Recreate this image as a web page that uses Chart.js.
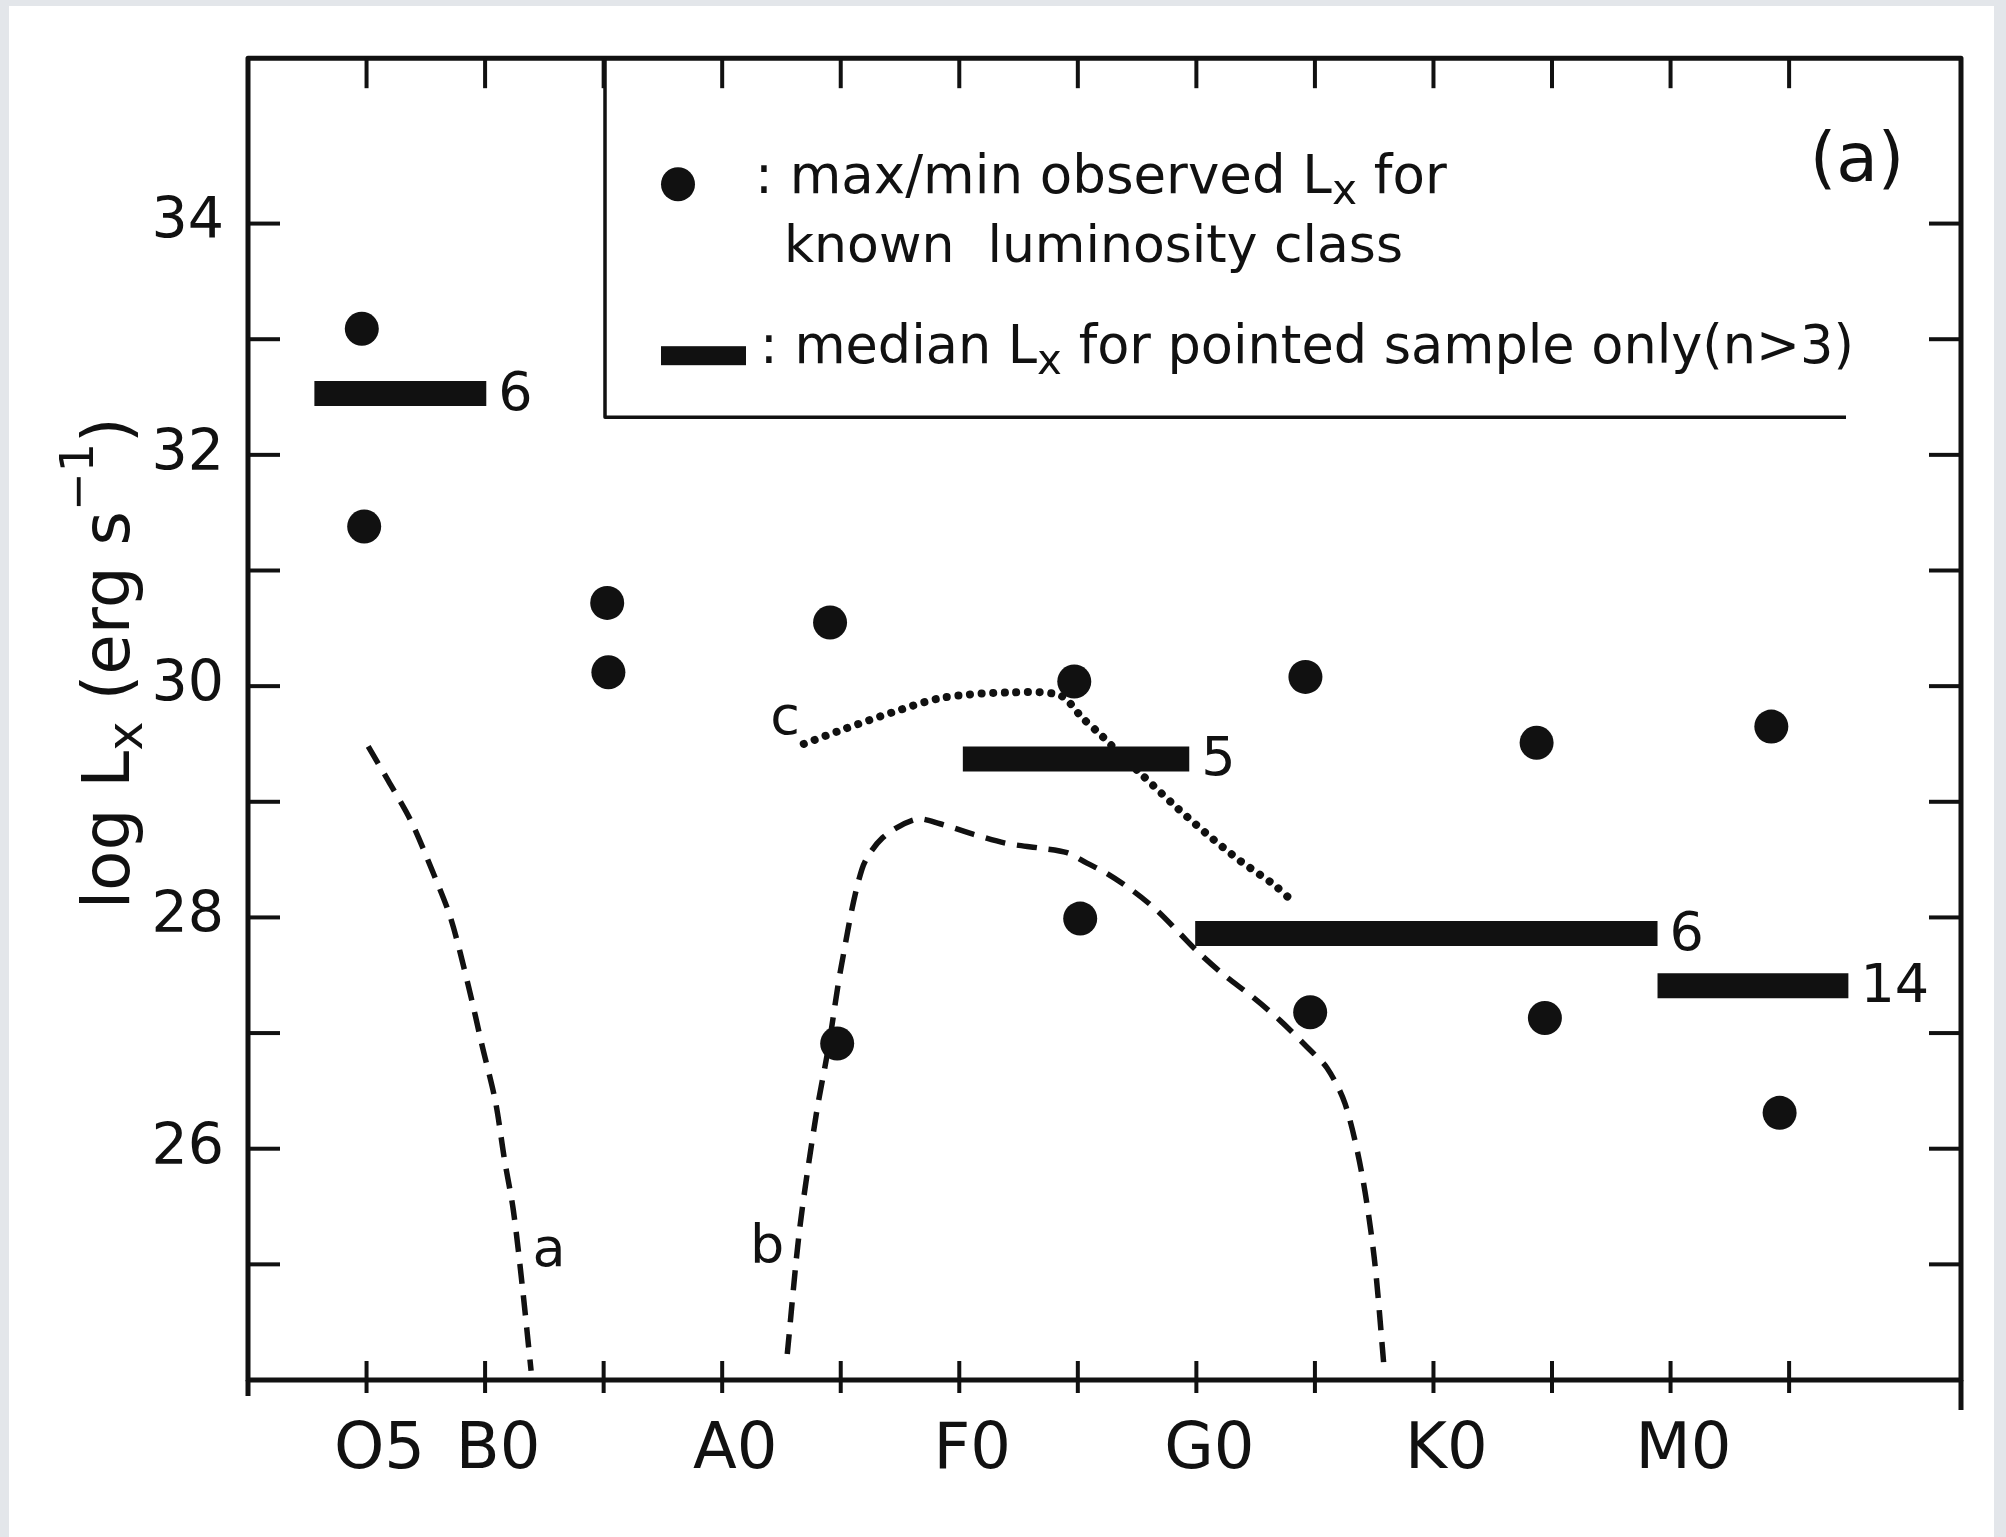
<!DOCTYPE html>
<html><head><meta charset="utf-8">
<script src="https://cdn.jsdelivr.net/npm/chart.js@4.4.1/dist/chart.umd.min.js"></script>
<style>
html,body{margin:0;padding:0;background:#e3e6ea;width:2006px;height:1537px;overflow:hidden;}
#panel{position:absolute;left:9px;top:6px;width:1985px;height:1531px;background:#fff;}
#c{position:absolute;left:0;top:0;}
</style></head><body>
<div id="panel"></div>
<canvas id="c" width="2006" height="1537"></canvas>
<script>
// Spectral type axis: one unit = 5 subclasses, O5 = 0
const xTickLabelPositions = [0, 1, 3, 5, 7, 9, 11];
const xTickLabelNames = ['O5', 'B0', 'A0', 'F0', 'G0', 'K0', 'M0'];
const yTickLabelValues = [26, 28, 30, 32, 34];

// max/min observed Lx (filled circles)
const maxMinX = [-0.04, -0.02, 2.03, 2.04, 3.91, 3.97, 5.97, 6.02, 7.92, 7.96, 9.87, 9.94, 11.85, 11.92];
const maxMinY = [33.09, 31.38, 30.72, 30.12, 30.55, 26.91, 30.04, 27.99, 30.08, 27.18, 29.51, 27.13, 29.65, 26.31];

// median Lx bars for pointed sample (n>3)
const medianStart = [-0.44, 5.03, 6.99, 10.89];
const medianEnd   = [1.01, 6.94, 10.89, 12.50];
const medianLx    = [32.53, 29.37, 27.86, 27.41];
const medianN     = ['6', '5', '6', '14'];

// curve a (dashed)
const curveAX = [0.014, 0.184, 0.372, 0.56, 0.711, 0.861, 0.973, 1.087, 1.163, 1.238, 1.313, 1.388];
const curveAY = [29.48, 29.18, 28.84, 28.39, 27.99, 27.40, 26.90, 26.41, 25.91, 25.47, 24.82, 24.08];
// curve b (dashed)
const curveBX = [3.549, 3.654, 3.794, 3.899, 4.005, 4.180, 4.354, 4.637, 4.837, 5.116, 5.40, 5.68, 5.909, 6.077, 6.246, 6.465, 6.668, 6.862, 7.005, 7.224, 7.477, 7.705, 7.933, 8.101, 8.254, 8.393, 8.50, 8.584];
const curveBY = [24.225, 25.31, 26.30, 26.89, 27.58, 28.42, 28.69, 28.85, 28.81, 28.72, 28.64, 28.60, 28.56, 28.47, 28.38, 28.23, 28.06, 27.86, 27.71, 27.51, 27.31, 27.11, 26.88, 26.70, 26.39, 25.80, 25.06, 24.10];
// curve c (dotted)
const curveCX = [3.688, 4.005, 4.427, 4.86, 5.408, 5.85, 6.043, 6.187, 6.271, 6.524, 6.803, 7.09, 7.368, 7.646, 7.79];
const curveCY = [29.50, 29.62, 29.77, 29.90, 29.945, 29.92, 29.72, 29.586, 29.50, 29.25, 28.98, 28.72, 28.49, 28.29, 28.16];

// curve labels (text baseline positions in data units)
const curveLabelNames = ['a', 'b', 'c'];
const curveLabelX = [1.54, 3.38, 3.53];
const curveLabelY = [24.99, 25.01, 29.59];

const INK = '#111';
const FONT = '"DejaVu Sans", "Liberation Sans", sans-serif';

function zip(xs, ys) { return xs.map((x, i) => ({x: x, y: ys[i]})); }

function drawRich(ctx, segs, x, y, size) {
  let cx = x;
  segs.forEach(s => {
    const fs = size * (s.k || 1);
    ctx.font = fs + 'px ' + FONT;
    ctx.fillText(s.t, cx, y + (s.dy || 0) * size);
    cx += ctx.measureText(s.t).width;
  });
  return cx;
}
function richWidth(ctx, segs, size) {
  let w = 0;
  segs.forEach(s => { ctx.font = size * (s.k || 1) + 'px ' + FONT; w += ctx.measureText(s.t).width; });
  return w;
}
function line(ctx, x1, y1, x2, y2) { ctx.beginPath(); ctx.moveTo(x1, y1); ctx.lineTo(x2, y2); ctx.stroke(); }

const datasets = [];
datasets.push({label: 'max/min observed Lx', data: zip(maxMinX, maxMinY), pointRadius: 17,
  pointBackgroundColor: INK, pointBorderWidth: 0, showLine: false, order: 0});
medianLx.forEach((v, i) => {
  datasets.push({label: 'median ' + i, data: [{x: medianStart[i], y: v}, {x: medianEnd[i], y: v}],
    showLine: true, borderColor: INK, borderWidth: 25, borderCapStyle: 'butt', pointRadius: 0, order: 1});
});
datasets.push({label: 'a', data: zip(curveAX, curveAY), showLine: true, borderColor: INK, borderWidth: 5.5,
  borderDash: [20, 12], tension: 0.3, pointRadius: 0, order: 2});
datasets.push({label: 'b', data: zip(curveBX, curveBY), showLine: true, borderColor: INK, borderWidth: 5.5,
  borderDash: [20, 12], tension: 0.3, pointRadius: 0, order: 2});
datasets.push({label: 'c', data: zip(curveCX, curveCY), showLine: true, borderColor: INK, borderWidth: 8,
  borderDash: [0.1, 11.5], borderCapStyle: 'round', tension: 0.3, pointRadius: 0, order: 2});

const decor = {
  id: 'decor',
  afterDatasetsDraw(chart) {
    const ctx = chart.ctx, a = chart.chartArea, xs = chart.scales.x, ys = chart.scales.y;
    ctx.save();
    ctx.strokeStyle = INK; ctx.fillStyle = INK;
    // frame
    ctx.lineWidth = 5; ctx.lineJoin = 'round';
    ctx.strokeRect(a.left, a.top, a.right - a.left, a.bottom - a.top);
    line(ctx, a.left, a.bottom, a.left, a.bottom + 16);
    line(ctx, a.right, a.bottom, a.right, a.bottom + 30);
    // tick marks (inward on top/left/right, crossing at bottom)
    ctx.lineWidth = 4;
    xs.ticks.forEach(t => {
      if (!Number.isInteger(t.value) || t.value <= xs.min || t.value >= xs.max) return;
      const px = xs.getPixelForValue(t.value);
      line(ctx, px, a.bottom - 19, px, a.bottom + 13);
      line(ctx, px, a.top, px, a.top + 30);
    });
    ys.ticks.forEach(t => {
      if (!Number.isInteger(t.value) || t.value <= ys.min || t.value >= ys.max) return;
      const py = ys.getPixelForValue(t.value);
      line(ctx, a.left, py, a.left + 32, py);
      line(ctx, a.right - 32, py, a.right, py);
    });
    // n labels for median bars
    ctx.textBaseline = 'middle'; ctx.textAlign = 'left';
    ctx.font = '54px ' + FONT;
    medianN.forEach((n, i) => {
      ctx.fillText(n, xs.getPixelForValue(medianEnd[i]) + 12, ys.getPixelForValue(medianLx[i]) + 2);
    });
    // curve labels
    ctx.textBaseline = 'alphabetic'; ctx.textAlign = 'center';
    ctx.font = '54px ' + FONT;
    curveLabelNames.forEach((n, i) => {
      ctx.fillText(n, xs.getPixelForValue(curveLabelX[i]), ys.getPixelForValue(curveLabelY[i]));
    });
    // panel tag
    ctx.font = '68px ' + FONT;
    ctx.fillText('(a)', a.right - 104, a.top + 123);
    // legend box
    const lx = a.left + 357, lb = a.top + 359, lr = a.left + 1598;
    ctx.lineWidth = 3.5;
    ctx.beginPath(); ctx.moveTo(lx, a.top); ctx.lineTo(lx, lb); ctx.lineTo(lr, lb); ctx.stroke();
    ctx.beginPath(); ctx.arc(a.left + 430, a.top + 126, 17, 0, Math.PI * 2); ctx.fill();
    ctx.fillRect(a.left + 413, a.top + 288, 85, 19);
    ctx.textAlign = 'left'; ctx.textBaseline = 'alphabetic';
    const sub = {t: 'x', k: 0.8, dy: 0.2};
    drawRich(ctx, [{t: ': max/min observed L'}, sub, {t: ' for'}], a.left + 507, a.top + 135, 53);
    drawRich(ctx, [{t: 'known  luminosity class'}], a.left + 536, a.top + 204, 52);
    drawRich(ctx, [{t: ': median L'}, sub, {t: ' for pointed sample only(n>3)'}], a.left + 512, a.top + 305, 52.5);
    // y axis title
    const tsegs = [{t: 'log L'}, {t: 'x', k: 0.75, dy: 0.2}, {t: ' (erg s'}, {t: '\u22121', k: 0.7, dy: -0.55}, {t: ')'}];
    const tw = richWidth(ctx, tsegs, 66);
    ctx.translate(129, a.top + 605);
    ctx.rotate(-Math.PI / 2);
    drawRich(ctx, tsegs, -tw / 2, 0, 66);
    ctx.restore();
  }
};

new Chart(document.getElementById('c'), {
  type: 'scatter',
  data: {datasets: datasets},
  options: {
    responsive: false, animation: false, devicePixelRatio: 1,
    layout: {padding: {left: 0, top: 56, right: 45, bottom: 0}},
    plugins: {legend: {display: false}, tooltip: {enabled: false}},
    scales: {
      x: {
        type: 'linear', min: -1, max: 13.45,
        grid: {display: false, drawTicks: false}, border: {display: false},
        afterFit: s => { s.height = 157; },
        ticks: {
          stepSize: 1, autoSkip: false, maxRotation: 0, padding: 33, labelOffset: 13, color: INK,
          font: {family: FONT, size: 64},
          callback: v => { const i = xTickLabelPositions.indexOf(v); return i >= 0 ? xTickLabelNames[i] : ''; }
        }
      },
      y: {
        type: 'linear', min: 24, max: 35.43,
        grid: {display: false, drawTicks: false}, border: {display: false},
        afterFit: s => { s.width = 248; },
        ticks: {
          stepSize: 1, autoSkip: false, padding: 24, color: INK,
          font: {family: FONT, size: 57},
          callback: v => yTickLabelValues.includes(v) ? String(v) : ''
        }
      }
    }
  },
  plugins: [decor]
});
</script>
</body></html>
